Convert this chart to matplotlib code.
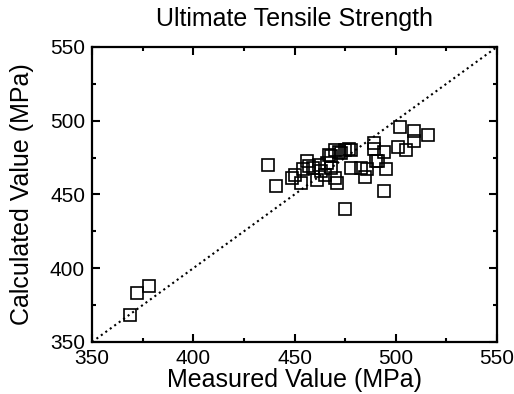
import matplotlib
matplotlib.use("Agg")
import matplotlib.pyplot as plt
from matplotlib.ticker import MultipleLocator

# valores (MPa)
measured = [369, 372, 378, 437, 441, 449, 450, 453, 454, 456, 459, 461, 462, 465,
            467, 468, 468, 470, 470, 471, 472, 473, 475, 477, 478, 478, 483, 485,
            486, 489, 489, 490, 491, 494, 494, 495, 501, 502, 505, 509, 509, 516,
            475, 466, 463, 457]
calculated = [368, 383, 388, 470, 456, 461, 463, 458, 467, 473, 468, 460, 470, 463,
              477, 476, 468, 480, 461, 458, 479, 478, 480, 481, 468, 480, 468, 462,
              467, 485, 481, 473, 473, 479, 452, 467, 482, 496, 480, 493, 486, 490,
              440, 471, 466, 469]
diag = [350, 550]

plt.rcParams["font.family"] = ["Liberation Sans", "DejaVu Sans"]

fig = plt.figure(figsize=(5.14, 3.94), dpi=100)
ax = fig.add_axes([0.179, 0.132, 0.788, 0.749])

ax.plot(diag, diag, linestyle=":", color="black", linewidth=1.5)
ax.plot(measured, calculated, linestyle="none", marker="s", markersize=9,
        markerfacecolor="none", markeredgecolor="black", markeredgewidth=1.2)

ax.set_xlim(350, 550)
ax.set_ylim(350, 550)
for a in (ax.xaxis, ax.yaxis):
    a.set_major_locator(MultipleLocator(50))
    a.set_minor_locator(MultipleLocator(25))
ax.tick_params(which="both", direction="in", top=True, right=True, labelsize=15)
ax.tick_params(which="major", length=6, width=1.5)
ax.tick_params(which="minor", length=3, width=1.5)
ax.tick_params(axis="x", pad=5)
ax.tick_params(axis="y", pad=5)
for s in ax.spines.values():
    s.set_linewidth(1.6)

ax.set_xlabel("Measured Value (MPa)", fontsize=18)
ax.set_ylabel("Calculated Value (MPa)", fontsize=18)
ax.xaxis.set_label_coords(0.5, -0.087)
ax.yaxis.set_label_coords(-0.142, 0.5)
ax.set_title("Ultimate Tensile Strength", fontsize=18, pad=15)

fig.savefig("out.png", dpi=100)
